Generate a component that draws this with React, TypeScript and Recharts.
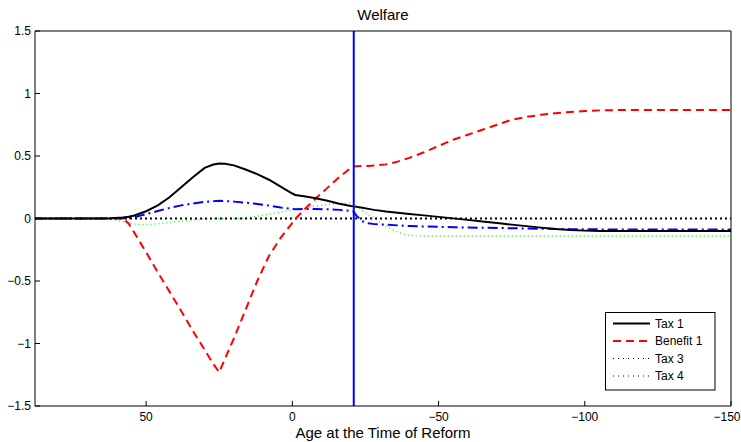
import React from 'react';
import { LineChart, Line, XAxis, YAxis, ReferenceLine } from 'recharts';

const ages = [88, 70, 62, 58, 56, 54, 50, 46, 42, 38, 34, 30, 27, 25, 23, 20, 16, 12, 8, 4, 0, -1, -4, -8, -12, -16, -20, -21, -22, -24, -26, -28, -32, -36, -40, -45, -50, -55, -60, -65, -70, -75, -80, -85, -90, -95, -100, -105, -110, -120, -130, -140, -150];

const tax1 = [0, 0, 0.002, 0.008, 0.014, 0.024, 0.058, 0.105, 0.17, 0.25,
  0.33, 0.405, 0.432, 0.44, 0.438, 0.425, 0.392, 0.355, 0.31, 0.255,
  0.2, 0.188, 0.178, 0.162, 0.142, 0.118, 0.1, 0.097, 0.093, 0.086,
  0.077, 0.069, 0.056, 0.046, 0.036, 0.025, 0.013, 0.001, -0.011, -0.024,
  -0.036, -0.049, -0.061, -0.073, -0.084, -0.092, -0.097, -0.1, -0.1, -0.1,
  -0.1, -0.1, -0.1];

const benefit1 = [0, 0, 0, 0, -0.04, -0.115, -0.27, -0.43, -0.585, -0.74,
  -0.9, -1.05, -1.165, -1.23, -1.12, -0.96, -0.73, -0.5, -0.3, -0.155,
  -0.035, -0.005, 0.07, 0.16, 0.245, 0.33, 0.405, 0.415, 0.418, 0.42,
  0.42, 0.424, 0.433, 0.455, 0.485, 0.53, 0.58, 0.63, 0.67, 0.71,
  0.75, 0.79, 0.812, 0.83, 0.842, 0.852, 0.86, 0.865, 0.867, 0.868,
  0.868, 0.868, 0.868];

const tax3 = ages.map(() => 0);

const tax4 = [0, 0, -0.005, -0.025, -0.035, -0.045, -0.05, -0.042, -0.03, -0.02,
  -0.012, -0.005, -0.002, 0, 0, 0, 0.005, 0.018, 0.035, 0.053,
  0.07, 0.075, 0.085, 0.1, 0.112, 0.122, 0.126, 0.12, 0.1, 0.065,
  0.03, 0.005, -0.06, -0.11, -0.135, -0.14, -0.14, -0.14, -0.14, -0.14,
  -0.14, -0.14, -0.14, -0.14, -0.14, -0.14, -0.14, -0.14, -0.14, -0.14,
  -0.14, -0.14, -0.14];

const other = [0, 0, 0, 0.001, 0.004, 0.01, 0.035, 0.06, 0.085, 0.105,
  0.12, 0.133, 0.139, 0.141, 0.14, 0.135, 0.127, 0.116, 0.103, 0.088,
  0.076, 0.075, 0.076, 0.076, 0.074, 0.069, 0.06, 0.055, 0.02, -0.022,
  -0.038, -0.045, -0.05, -0.055, -0.06, -0.064, -0.067, -0.07, -0.072, -0.074,
  -0.076, -0.078, -0.08, -0.082, -0.084, -0.085, -0.086, -0.087, -0.087, -0.087,
  -0.087, -0.087, -0.087];

const xTicks = [50, 0, -50, -100, -150];
const yTicks = [-1.5, -1, -0.5, 0, 0.5, 1, 1.5];
const reformAge = -21;

const data = ages.map((age, i) => ({
  age,
  tax1: tax1[i],
  benefit1: benefit1[i],
  tax3: tax3[i],
  tax4: tax4[i],
  other: other[i],
}));

const fmt = (v: number) => String(v).replace('-', '\u2212');
const FONT = '"Liberation Sans", Arial, Helvetica, sans-serif';

const XTick = (props: any) => {
  const { x, y, payload } = props;
  const dx = payload.value === -150 ? -4 : 0;
  return (
    <text x={x + dx} y={y} dy="0.71em" textAnchor="middle" fontSize={12} fill="#000" fontFamily={FONT}>
      {fmt(payload.value)}
    </text>
  );
};

export default function App() {
  return (
    <div style={{ position: 'absolute', left: 0, top: 0, width: 741, height: 442, background: '#fff', fontFamily: FONT }}>
      <LineChart width={741} height={442} data={data} margin={{ top: 30, right: 0, bottom: 0, left: 0 }} style={{ fontFamily: FONT }}>
        <XAxis xAxisId={0} dataKey="age" type="number" domain={[-150, 88]} reversed allowDataOverflow
          ticks={xTicks} interval={0} tickSize={-5} tickMargin={11} height={36}
          stroke="#000" tick={<XTick />} />
        <XAxis xAxisId="top" orientation="top" type="number" domain={[-150, 88]} reversed allowDataOverflow
          ticks={xTicks} interval={0} tickSize={-5} tick={false} height={1} stroke="#000" />
        <YAxis yAxisId={0} type="number" domain={[-1.5, 1.5]} allowDataOverflow ticks={yTicks} interval={0}
          tickFormatter={fmt} tickSize={-5} tickMargin={9} width={35} stroke="#000" tick={{ fill: '#000', fontSize: 12 }} />
        <YAxis yAxisId="right" orientation="right" type="number" domain={[-1.5, 1.5]} allowDataOverflow ticks={yTicks}
          interval={0} tickSize={-5} tick={false} width={10} stroke="#000" />
        <Line type="linear" dataKey="tax4" stroke="#22ee22" strokeWidth={1.3} strokeDasharray="1 3" dot={false} activeDot={false} isAnimationActive={false} />
        <Line type="linear" dataKey="other" stroke="#0000ff" strokeWidth={2} strokeDasharray="10 4 2 4" dot={false} activeDot={false} isAnimationActive={false} />
        <Line type="linear" dataKey="tax3" stroke="#000" strokeWidth={2} strokeDasharray="2 3" dot={false} activeDot={false} isAnimationActive={false} />
        <Line type="linear" dataKey="benefit1" stroke="#ff0000" strokeWidth={2} strokeDasharray="8 5" dot={false} activeDot={false} isAnimationActive={false} />
        <Line type="linear" dataKey="tax1" stroke="#000" strokeWidth={2} dot={false} activeDot={false} isAnimationActive={false} />
        <ReferenceLine x={reformAge} stroke="#0000ff" strokeWidth={2} />
      </LineChart>
      <svg width={741} height={442} style={{ position: 'absolute', left: 0, top: 0, pointerEvents: 'none' }} fontFamily={FONT}>
        <text x={383} y={20} textAnchor="middle" fontSize={15} fill="#000">Welfare</text>
        <text x={383} y={437.5} textAnchor="middle" fontSize={15} fill="#000">Age at the Time of Reform</text>
        <g>
          <rect x={605.5} y={312.5} width={109.5} height={77.5} fill="#fff" stroke="#000" strokeWidth={1} />
          <line x1={613} y1={323.5} x2={650} y2={323.5} stroke="#000" strokeWidth={2} />
          <text x={655} y={327.8} fontSize={12} fill="#000">Tax 1</text>
          <line x1={613} y1={341} x2={650} y2={341} stroke="#ff0000" strokeWidth={2} strokeDasharray="8 5" />
          <text x={655} y={345.3} fontSize={12} fill="#000">Benefit 1</text>
          <line x1={613} y1={358.5} x2={650} y2={358.5} stroke="#000" strokeWidth={1} strokeDasharray="1 4" />
          <text x={655} y={362.8} fontSize={12} fill="#000">Tax 3</text>
          <line x1={613} y1={376} x2={650} y2={376} stroke="#000" strokeWidth={1} strokeDasharray="1 4" />
          <text x={655} y={380.3} fontSize={12} fill="#000">Tax 4</text>
        </g>
      </svg>
    </div>
  );
}
